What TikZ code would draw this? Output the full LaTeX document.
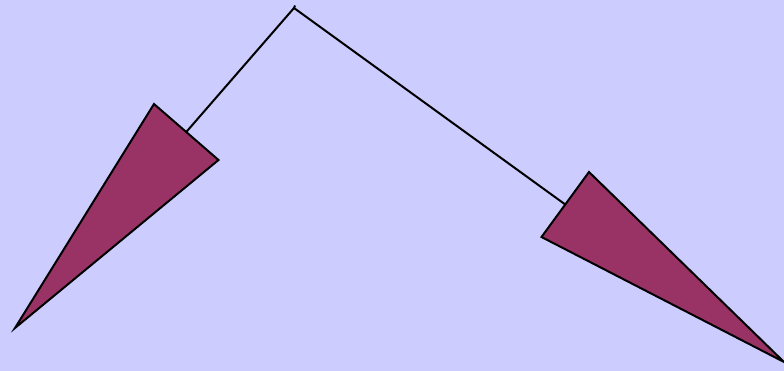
\documentclass[tikz,border=0pt]{standalone}
\usepackage{xcolor}
\usepackage{tikz}
\usetikzlibrary{calc}
\definecolor{bgblue}{RGB}{204, 204, 255}
\definecolor{tipred}{RGB}{153, 51, 102}

\tikzset{
  tipshape/.style={draw=black, line width=2pt, fill=tipred, line join=miter},
  wire/.style={draw=black, line width=2pt}
}

\begin{document}
\begin{tikzpicture}[x=1pt, y=-1pt]
        \fill[bgblue] (0,0) rectangle (784,371);
        \useasboundingbox (0,0) rectangle (784,371);

        \coordinate (apex) at (294,8);
        \coordinate (lefta) at (154,104);
        \coordinate (leftb) at (218.5,160);
        \coordinate (lefttip) at (15,328);
        \coordinate (righta) at (589,172);
        \coordinate (rightb) at (541.5,237);
        \coordinate (righttip) at (784,362);

        \draw[wire] ($(lefta)!0.5!(leftb)$) -- (apex) -- ($(righta)!0.5!(rightb)$);
        \draw[wire] (apex) -- ++(1,-2.5);

        \filldraw[tipshape] (lefta) -- (leftb) -- (lefttip) -- cycle;
        \filldraw[tipshape] (righta) -- (rightb) -- (righttip) -- cycle;
    \end{tikzpicture}
\end{document}
